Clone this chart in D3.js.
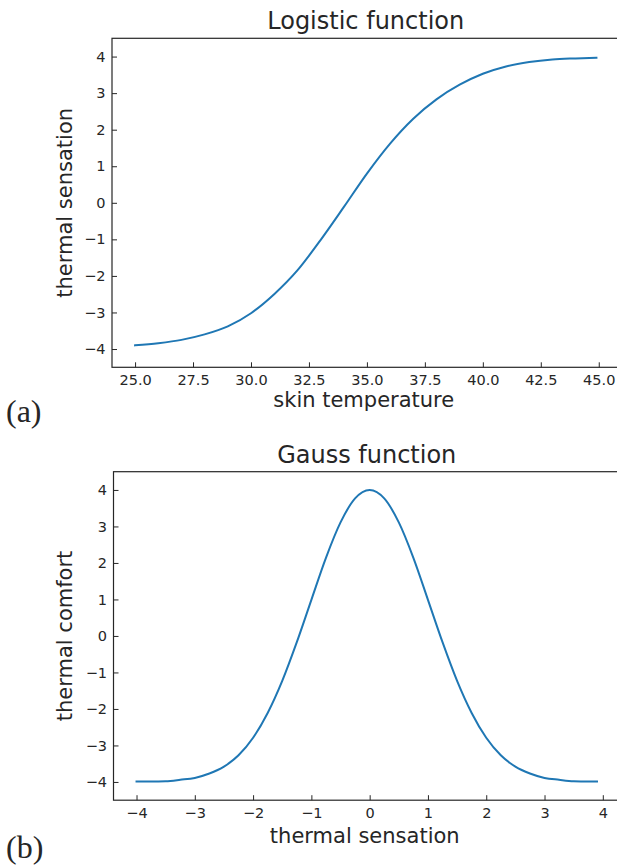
<!DOCTYPE html>
<html lang="en">
  <head>
    <meta charset="utf-8">
    <title>Logistic and Gauss function</title>
    <script src="https://cdn.jsdelivr.net/npm/d3@7"></script>
    <style>
      body { margin: 0; background: #fff; }
      text { font-family: "DejaVu Sans", sans-serif; fill: #262626; }
    </style>
  </head>
  <body>
    <script>

      /*
      DATA
       */

      // (a) logistic: skin temperature -> thermal sensation
      const skin_temp = [25, 26, 27, 28, 29, 30, 31, 32, 33, 34, 35, 36, 37, 38, 39, 40, 41, 42, 43, 44, 44.9];
      const sensation = [-3.90, -3.84, -3.75, -3.60, -3.38, -3.02, -2.50, -1.85, -1.02, -0.12, 0.80,
                         1.62, 2.30, 2.83, 3.23, 3.53, 3.73, 3.85, 3.92, 3.95, 3.97];

      // (b) gauss: thermal sensation -> thermal comfort
      const sens_x = [-4, -3.75, -3.5, -3.25, -3, -2.75, -2.5, -2.25, -2, -1.75, -1.5, -1.25, -1, -0.75, -0.5, -0.25,
                      0, 0.25, 0.5, 0.75, 1, 1.25, 1.5, 1.75, 2, 2.25, 2.5, 2.75, 3, 3.25, 3.5, 3.75, 3.9];
      const comfort = [-3.99, -3.99, -3.98, -3.94, -3.89, -3.77, -3.58, -3.27, -2.79, -2.11, -1.23, -0.17, 0.99, 2.14, 3.11, 3.77,
                       4.00, 3.77, 3.11, 2.14, 0.99, -0.17, -1.23, -2.11, -2.79, -3.27, -3.58, -3.77, -3.89, -3.94, -3.98, -3.99, -3.99];

      const ticks_a_x = [25, 27.5, 30, 32.5, 35, 37.5, 40, 42.5, 45];
      const ticks_b_x = [-4, -3, -2, -1, 0, 1, 2, 3, 4];
      const ticks_y = [-4, -3, -2, -1, 0, 1, 2, 3, 4];


      /*
      LAYOUT
       */

      const SVG_WIDTH = 617;
      const SVG_HEIGHT = 868;

      const LINE_COLOR = "#1f77b4";
      const TICK_FONT = 14.5;
      const LABEL_FONT = 21;
      const TITLE_FONT = 24;
      const TICK_LEN = 5;

      const YLIM = [-4.5, 4.5];

      // axes boxes (right spine falls just outside the picture)
      const A = {left: 112, right: 619.5, top: 38.3, bottom: 367.3, xlim: [24.005, 45.895], xlab: 40};
      const B = {left: 113.5, right: 620, top: 471.7, bottom: 800.2, xlim: [-4.395, 4.295], xlab: 42.5};

      let svg = d3.select("body").append("svg")
        .attr("width", SVG_WIDTH)
        .attr("height", SVG_HEIGHT)
      ;
      svg.append("rect").attr("width", SVG_WIDTH).attr("height", SVG_HEIGHT).attr("fill", "#fff");

      function add_text(g, x, y, t, size){
        return g.append("text")
          .attr("x", x)
          .attr("y", y)
          .attr("font-size", size)
          .text(t)
        ;
      }

      function draw_panel(box, xs, ys, xticks, xfmt, title, xlabel, ylabel, tag, tag_y){
        let x = d3.scaleLinear().domain(box.xlim).range([box.left, box.right]);
        let y = d3.scaleLinear().domain(YLIM).range([box.bottom, box.top]);

        let g = svg.append("g");

        // curve
        let pts = xs.map((d, i) => [d, ys[i]]);
        g.append("path")
          .datum(pts)
          .attr("fill", "none")
          .attr("stroke", LINE_COLOR)
          .attr("stroke-width", 2)
          .attr("stroke-linecap", "square")
          .attr("d", d3.line().x(d => x(d[0])).y(d => y(d[1])).curve(d3.curveMonotoneX))
        ;

        // axes with inward ticks
        let gx = g.append("g")
          .attr("transform", "translate(0," + box.bottom + ")")
          .call(d3.axisBottom(x).tickValues(xticks).tickFormat(d3.format(xfmt))
            .tickSizeInner(-TICK_LEN).tickSizeOuter(0).tickPadding(7.5));
        let gy = g.append("g")
          .attr("transform", "translate(" + box.left + ",0)")
          .call(d3.axisLeft(y).tickValues(ticks_y).tickFormat(d3.format("d"))
            .tickSizeInner(-TICK_LEN).tickSizeOuter(0).tickPadding(6.5));
        [gx, gy].forEach(a => {
          a.select(".domain").remove();
          a.selectAll("line").attr("stroke", "#262626").attr("stroke-width", 1);
          a.selectAll("text").attr("font-size", TICK_FONT).attr("font-family", "DejaVu Sans").attr("fill", "#262626");
        });

        // frame
        g.append("rect")
          .attr("x", box.left)
          .attr("y", box.top)
          .attr("width", box.right - box.left)
          .attr("height", box.bottom - box.top)
          .attr("fill", "none")
          .attr("stroke", "#262626")
          .attr("stroke-width", 1.2)
        ;

        let cx = (box.left + box.right) / 2;
        let cy = (box.top + box.bottom) / 2;

        add_text(g, cx, box.top - 9, title, TITLE_FONT).attr("text-anchor", "middle");
        add_text(g, cx - 2, box.bottom + box.xlab, xlabel, LABEL_FONT).attr("text-anchor", "middle");
        add_text(g, 0, 0, ylabel, LABEL_FONT)
          .attr("text-anchor", "middle")
          .attr("transform", "translate(72," + cy + ") rotate(-90)")
        ;

        add_text(g, 6, tag_y, tag, 32)
          .style("font-family", "'Liberation Serif', 'Times New Roman', serif")
          .attr("fill", "#000")
        ;
      }

      draw_panel(A, skin_temp, sensation, ticks_a_x, ".1f",
        "Logistic function", "skin temperature", "thermal sensation", "(a)", 422);
      draw_panel(B, sens_x, comfort, ticks_b_x, "d",
        "Gauss function", "thermal sensation", "thermal comfort", "(b)", 858);

    </script>
  </body>
</html>
